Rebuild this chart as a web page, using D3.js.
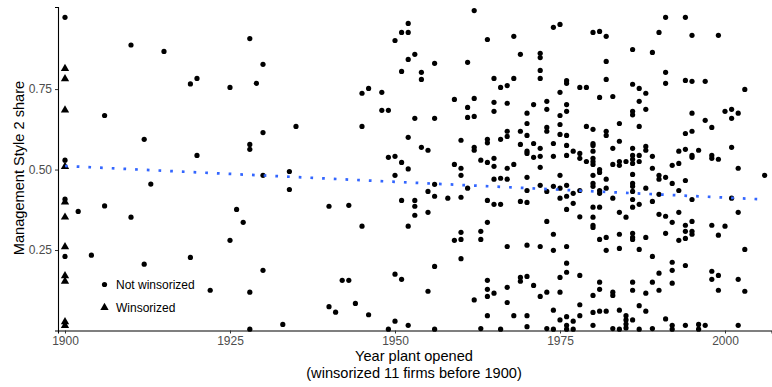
<!DOCTYPE html>
<html>
<head>
<meta charset="utf-8">
<script src="https://cdn.jsdelivr.net/npm/d3@7"></script>
<style>
  body { margin: 0; background: #fff; }
  text { font-family: "Liberation Sans", Arial, sans-serif; }
</style>
</head>
<body>
<div id="chart"></div>
<script>
const width = 772;
const height = 387;

// Firms opened before 1900 are winsorized to 1900
const winsorizedShares = [0.814, 0.782, 0.685, 0.509, 0.399, 0.352, 0.26, 0.17, 0.153, 0.027, 0.015];

// Not winsorized plants: year opened and Management Style 2 share
const openYears = [
  1900, 1900, 1900, 1900, 1910, 1915, 1919, 1920, 1906, 1912, 1920, 1913, 1902, 1906, 1910, 1904, 1912, 1919,
  1928, 1930, 1925, 1929, 1935, 1930, 1928, 1928, 1930, 1934, 1934, 1926, 1927, 1925, 1940, 1943, 1930, 1922, 1928, 1942, 1943,
  1928, 1933, 1940, 1941, 1944, 1946, 1949, 1950, 1952, 1956, 1962, 1963, 1964, 1966, 1967, 1968, 1970, 1970, 1973, 1974, 1974,
  1975, 1976, 1976, 1976, 1977, 1977, 1978, 1978, 1980, 1980, 1981, 1982, 1983, 1984, 1984, 1985, 1985, 1985, 1985, 1986, 1987,
  1987, 1988, 1989, 1991, 1992, 1992, 1994, 1996, 1996, 1997, 2002,
  1962, 1952, 1951, 1952, 1950, 1964, 1968, 1974, 1975, 1953, 1952, 1956, 1961, 1969, 1972, 1972, 1951, 1954, 1954, 1972, 1972,
  1965, 1968, 1966, 1967, 1945, 1946, 1948, 1975, 1959, 1962, 1965, 1967, 1973, 1971, 1948, 1949, 1961, 1965, 1973, 1970, 1975,
  1953, 1956, 1961, 1962, 1970, 1973, 1973, 1975, 1945, 1967, 1967, 1969, 1970, 1975, 1952, 1960, 1964, 1964, 1966, 1969, 1971,
  1974, 1970, 1970, 1972, 1954, 1955, 1962, 1962, 1949, 1950, 1951, 1952, 1959, 1960, 1963, 1964, 1965, 1965, 1967, 1968, 1971,
  1972, 1972, 1974,
  1960, 1950, 1965, 1966, 1967, 1970, 1975, 1974, 1972, 1973, 1970, 1956, 1955, 1956, 1961, 1958, 1960, 1951, 1953, 1953, 1953,
  1955, 1964, 1965, 1966, 1969, 1970, 1975, 1945, 1952, 1973, 1964, 1960, 1959, 1960, 1963, 1963, 1974, 1967, 1970, 1972, 1974,
  1960, 1956, 1950, 1951, 1964, 1964, 1964, 1965, 1967, 1969, 1969, 1970, 1971, 1972, 1973, 1975, 1975, 1955, 1975,
  1980, 1981, 1982, 1991, 1994, 1990, 1995, 1999, 1986, 1989, 1982, 1991, 1982, 1976, 1976, 1978, 1979, 1981, 1983, 1986, 1987,
  1988, 1991, 1994, 1995, 1997, 2003, 1987, 1976, 1976, 1986, 1986, 1988, 1995, 2000, 2001, 2002, 2001, 1997, 1998, 1984, 1979,
  1980, 1982, 1982, 1987, 1994, 1995, 1976, 1976, 1980, 1980, 1984, 1983, 1986, 1988, 1988, 1993, 1994, 1996, 1995, 1995, 1998,
  1998, 1999, 2001, 1976, 1977, 1978, 1978, 1979, 1980, 1980, 1980, 1980, 1983, 1984, 1984, 1985, 1986, 1986, 1986, 1987, 1987,
  1989, 1992, 1993, 1981, 1989, 2002,
  1980, 1981, 1982, 1986, 1990, 1990, 1991, 1994, 2006, 1976, 1976, 1977, 1978, 1976, 1977, 1978, 1980, 1980, 1981, 1981, 1982,
  1983, 1980, 1981, 1980, 1980, 1980, 1984, 1985, 1986, 1986, 1986, 1986, 1986, 1987, 1988, 1989, 1990, 1990, 1991, 1992, 1993,
  1995, 1993, 1992, 1994, 1994, 1995, 1995, 1995, 1993, 1994, 1998, 2000, 1999, 2002, 2001, 1991, 1988, 1986, 1986, 1986, 1984,
  1982, 1981, 1976, 1982, 1984, 1987, 1989, 2003, 1976, 1976, 1978, 1981, 1981, 1980, 1983, 1983, 1986, 1986, 1988, 1989, 1990,
  1990, 1992, 1992, 1992, 1994, 1998, 1998, 1999, 1999, 2002, 2003
];
const style2Shares = [
  0.973, 0.529, 0.408, 0.23, 0.887, 0.867, 0.766, 0.783, 0.668, 0.594, 0.544, 0.455, 0.37, 0.387, 0.352, 0.234, 0.206, 0.227,
  0.907, 0.827, 0.755, 0.768, 0.634, 0.615, 0.578, 0.563, 0.482, 0.494, 0.438, 0.376, 0.336, 0.28, 0.386, 0.389, 0.187, 0.125, 0.119, 0.156, 0.156,
  0.004, 0.019, 0.074, 0.057, 0.084, 0.049, 0.004, 0.029, 0.016, 0.004, 0.095, 0.006, 0.046, 0.004, 0.087, 0.046, 0.046, 0.012, 0.006, 0.063, 0.004,
  0.033, 0.043, 0.016, 0.004, 0.029, 0.004, 0.08, 0.046, 0.056, 0.016, 0.06, 0.06, 0.006, 0.063, 0.004, 0.046, 0.033, 0.02, 0.008, 0.033, 0.077,
  0.004, 0.06, 0.006, 0.036, 0.016, 0.004, 0.016, 0.019, 0.004, 0.016, 0.016,
  0.994, 0.954, 0.926, 0.926, 0.901, 0.904, 0.914, 0.942, 0.951, 0.858, 0.842, 0.83, 0.833, 0.858, 0.861, 0.848, 0.805, 0.802, 0.78, 0.808, 0.783,
  0.783, 0.783, 0.755, 0.761, 0.737, 0.752, 0.74, 0.74, 0.718, 0.721, 0.709, 0.706, 0.712, 0.702, 0.684, 0.684, 0.693, 0.681, 0.687, 0.675, 0.668,
  0.659, 0.659, 0.662, 0.665, 0.643, 0.631, 0.619, 0.64, 0.634, 0.619, 0.603, 0.619, 0.606, 0.609, 0.6, 0.591, 0.594, 0.583, 0.594, 0.578, 0.581,
  0.581, 0.557, 0.55, 0.566, 0.569, 0.56, 0.569, 0.56, 0.538, 0.541, 0.522, 0.502, 0.516, 0.504, 0.529, 0.522, 0.535, 0.51, 0.504, 0.516, 0.538,
  0.541, 0.507, 0.541,
  0.482, 0.482, 0.47, 0.473, 0.47, 0.476, 0.482, 0.448, 0.451, 0.432, 0.435, 0.454, 0.432, 0.417, 0.442, 0.411, 0.414, 0.404, 0.404, 0.386, 0.358,
  0.367, 0.404, 0.392, 0.392, 0.401, 0.398, 0.411, 0.324, 0.324, 0.339, 0.336, 0.305, 0.28, 0.283, 0.308, 0.283, 0.299, 0.261, 0.265, 0.261, 0.249,
  0.223, 0.199, 0.175, 0.159, 0.156, 0.128, 0.106, 0.116, 0.134, 0.165, 0.153, 0.168, 0.14, 0.106, 0.119, 0.165, 0.119, 0.122, 0.442,
  0.926, 0.929, 0.914, 0.973, 0.973, 0.926, 0.917, 0.917, 0.873, 0.864, 0.836, 0.802, 0.78, 0.776, 0.768, 0.755, 0.755, 0.724, 0.727, 0.765, 0.752,
  0.737, 0.768, 0.777, 0.774, 0.774, 0.749, 0.712, 0.702, 0.681, 0.681, 0.67, 0.687, 0.675, 0.681, 0.687, 0.675, 0.659, 0.653, 0.631, 0.643, 0.634,
  0.625, 0.619, 0.606, 0.634, 0.612, 0.619, 0.606, 0.575, 0.581, 0.575, 0.588, 0.566, 0.566, 0.572, 0.56, 0.557, 0.563, 0.56, 0.544, 0.538, 0.544,
  0.535, 0.532, 0.569, 0.544, 0.557, 0.55, 0.535, 0.525, 0.557, 0.535, 0.525, 0.516, 0.516, 0.525, 0.513, 0.525, 0.544, 0.532, 0.519, 0.544, 0.525,
  0.541, 0.513, 0.519, 0.5, 0.504, 0.504,
  0.482, 0.491, 0.47, 0.485, 0.482, 0.47, 0.476, 0.466, 0.482, 0.451, 0.417, 0.426, 0.435, 0.376, 0.395, 0.353, 0.457, 0.448, 0.435, 0.426, 0.442,
  0.411, 0.383, 0.383, 0.352, 0.327, 0.32, 0.367, 0.352, 0.457, 0.448, 0.432, 0.407, 0.383, 0.392, 0.442, 0.401, 0.423, 0.361, 0.355, 0.457, 0.435,
  0.407, 0.367, 0.336, 0.327, 0.308, 0.308, 0.299, 0.339, 0.28, 0.286, 0.327, 0.324, 0.296, 0.367, 0.411, 0.302, 0.289, 0.302, 0.289, 0.283, 0.299,
  0.289, 0.283, 0.261, 0.249, 0.255, 0.252, 0.23, 0.252, 0.209, 0.181, 0.171, 0.15, 0.128, 0.109, 0.119, 0.109, 0.15, 0.125, 0.116, 0.15, 0.178,
  0.125, 0.212, 0.187, 0.147, 0.202, 0.184, 0.159, 0.171, 0.125, 0.159, 0.122
];

// Linear fit drawn across the year range
const trendYears = [1900, 2006];
const trendShares = [0.511, 0.407];

const xTicks = [1900, 1925, 1950, 1975, 2000];
const yTicks = [0.25, 0.5, 0.75];

const svg = d3.select("#chart").append("svg").attr("width", width).attr("height", height);

const x = d3.scaleLinear().domain([1898.94, 2007.06]).range([58, 771.6]);
const y = d3.scaleLinear().domain([0, 1.005]).range([330.5, 7]);

// Points
const plants = openYears.map((yr, i) => ({ year: yr, share: style2Shares[i] }));
svg.append("g").selectAll("circle").data(plants).join("circle")
  .attr("cx", d => x(d.year)).attr("cy", d => y(d.share)).attr("r", 2.6).attr("fill", "#000");

const tri = d3.symbol().type(d3.symbolTriangle).size(30);
svg.append("g").selectAll("path").data(winsorizedShares).join("path")
  .attr("d", tri).attr("fill", "#000")
  .attr("transform", d => `translate(${x(1900)},${y(d)})`);

// Trend line
svg.append("line")
  .attr("x1", x(trendYears[0])).attr("y1", y(trendShares[0]))
  .attr("x2", x(trendYears[1])).attr("y2", y(trendShares[1]))
  .attr("stroke", "#3366FF").attr("stroke-width", 2.7).attr("stroke-dasharray", "2.7 9");

// Axes
const xAxis = svg.append("g").attr("transform", `translate(0,${y(0)})`)
  .call(d3.axisBottom(x).tickValues(xTicks).tickFormat(d3.format("d")).tickSize(3).tickPadding(3));
const yAxis = svg.append("g").attr("transform", `translate(${x.range()[0]},0)`)
  .call(d3.axisLeft(y).tickValues(yTicks).tickFormat(d3.format(".2f")).tickSize(3).tickPadding(3));
[xAxis, yAxis].forEach(a => {
  a.select(".domain").attr("stroke", "#000").attr("stroke-width", 1.1);
  a.selectAll(".tick line").attr("stroke", "#333");
  a.selectAll(".tick text").attr("fill", "#4d4d4d").style("font-size", "12px").style("font-family", "'Liberation Sans', Arial, sans-serif");
});

// Axis titles
svg.append("text").attr("x", 414).attr("y", 361).attr("text-anchor", "middle")
  .style("font-size", "14.6px").text("Year plant opened");
svg.append("text").attr("x", 414).attr("y", 378).attr("text-anchor", "middle")
  .style("font-size", "14.6px").text("(winsorized 11 firms before 1900)");
svg.append("text").attr("transform", "translate(24,168) rotate(-90)").attr("text-anchor", "middle")
  .style("font-size", "14.6px").text("Management Style 2 share");

// Legend inside the panel
const legend = svg.append("g");
legend.append("rect").attr("x", 94).attr("y", 268).attr("width", 104).attr("height", 52).attr("fill", "#fff");
legend.append("circle").attr("cx", 104.5).attr("cy", 284.5).attr("r", 2.6).attr("fill", "#000");
legend.append("path").attr("d", tri).attr("fill", "#000").attr("transform", "translate(104.5,307.5)");
legend.append("text").attr("x", 116).attr("y", 288.8).style("font-size", "12px").text("Not winsorized");
legend.append("text").attr("x", 116).attr("y", 311.8).style("font-size", "12px").text("Winsorized");
</script>
</body>
</html>
